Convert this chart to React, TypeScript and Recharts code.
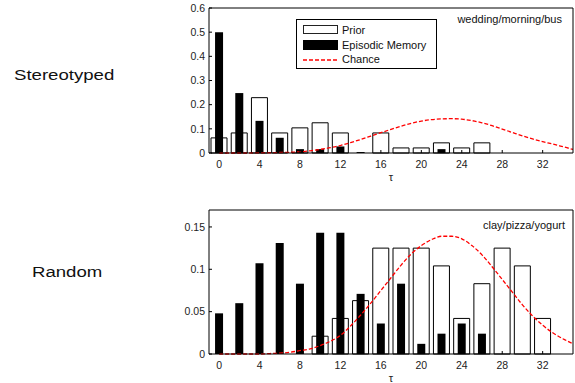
import React from 'react';
import { ComposedChart, Bar, Line, XAxis, YAxis } from 'recharts';

const FONT = '"Liberation Sans", Arial, Helvetica, sans-serif';

// bar positions (tau, even lags)
const tauBars = [0, 2, 4, 6, 8, 10, 12, 14, 16, 18, 20, 22, 24, 26, 28, 30, 32, 34];
const xTicks = [0, 4, 8, 12, 16, 20, 24, 28, 32];

// Stereotyped: wedding/morning/bus
const priorStereo = [0.0625, 0.083, 0.229, 0.083, 0.104, 0.125, 0.083, 0, 0.083, 0.021, 0.021, 0.042, 0.021, 0.042, 0, 0, 0, 0];
const episodicStereo = [0.5, 0.248, 0.133, 0.063, 0.016, 0.016, 0.027, 0.004, 0, 0, 0, 0.016, 0, 0, 0, 0, 0, 0];

// Random: clay/pizza/yogurt
const priorRandom = [0, 0, 0, 0, 0, 0.021, 0.042, 0.063, 0.125, 0.125, 0.125, 0.104, 0.042, 0.083, 0.125, 0.104, 0.042, 0];
const episodicRandom = [0.048, 0.06, 0.107, 0.131, 0.083, 0.143, 0.143, 0.071, 0.036, 0.083, 0.012, 0.024, 0.036, 0.024, 0, 0, 0, 0];

// chance curve, tau = 0..35
const tauLine = [0, 1, 2, 3, 4, 5, 6, 7, 8, 9, 10, 11, 12, 13, 14, 15, 16, 17, 18, 19, 20, 21, 22, 23, 24, 25, 26, 27, 28, 29, 30, 31, 32, 33, 34, 35];
const chanceStereo = [0, 0, 0, 0, 0.001, 0.001, 0.002, 0.003, 0.005, 0.009, 0.015, 0.022, 0.031, 0.043, 0.056, 0.07, 0.084, 0.098, 0.111, 0.123, 0.132, 0.138, 0.141, 0.142, 0.14, 0.134, 0.125, 0.113, 0.099, 0.085, 0.071, 0.058, 0.047, 0.037, 0.026, 0.015];
const chanceRandom = [0, 0, 0, 0, 0, 0.0005, 0.001, 0.002, 0.004, 0.006, 0.01, 0.015, 0.022, 0.033, 0.046, 0.06, 0.075, 0.09, 0.105, 0.118, 0.128, 0.135, 0.139, 0.139, 0.136, 0.128, 0.117, 0.103, 0.088, 0.073, 0.058, 0.045, 0.034, 0.025, 0.018, 0.012];

const stereoRows = tauBars.map((tau, i) => ({ tau, prior: priorStereo[i], episodic: episodicStereo[i] }));
const randomRows = tauBars.map((tau, i) => ({ tau, prior: priorRandom[i], episodic: episodicRandom[i] }));
const stereoChance = tauLine.map((tau, i) => ({ tau, p: chanceStereo[i] }));
const randomChance = tauLine.map((tau, i) => ({ tau, p: chanceRandom[i] }));

const tickStyle = { fontSize: 10.5, fill: '#222', fontFamily: FONT };

function Panel({ data, chance, yDomain, yTicks, top, height, marginTop, axisHeight, labelOffset }: any) {
  return (
    <div style={{ position: 'absolute', left: 0, top }}>
      <ComposedChart width={575} height={height} data={data} margin={{ top: marginTop, right: 1, bottom: 0, left: 179 }}>
        <XAxis xAxisId="main" dataKey="tau" type="number" domain={[-1, 35]} ticks={xTicks} interval={0}
          height={axisHeight} tickSize={-3} tickMargin={11} stroke="#000" tick={tickStyle}
          label={{ value: 'τ', position: 'insideBottom', offset: labelOffset, fontSize: 11, fill: '#222', fontFamily: FONT }} />
        <XAxis xAxisId="top" orientation="top" dataKey="tau" type="number" domain={[-1, 35]} ticks={xTicks}
          interval={0} height={1} tickSize={-3} tick={false} stroke="#000" />
        <YAxis yAxisId="left" type="number" domain={yDomain} ticks={yTicks} interval={0} width={30}
          tickSize={-3} tickMargin={7} stroke="#000" tick={tickStyle} />
        <YAxis yAxisId="right" orientation="right" type="number" domain={yDomain} ticks={yTicks} interval={0}
          width={1} tickSize={-3} tick={false} stroke="#000" />
        <Bar xAxisId="main" yAxisId="left" dataKey="prior" barSize={16} fill="#fff" stroke="#000" strokeWidth={1} isAnimationActive={false} />
        <Bar xAxisId="top" yAxisId="left" dataKey="episodic" barSize={8} fill="#000" isAnimationActive={false} />
        <Line xAxisId="top" yAxisId="left" data={chance} dataKey="p" type="monotone" stroke="#ff0000"
          strokeDasharray="4 2" strokeWidth={1.3} dot={false} activeDot={false} isAnimationActive={false} />
      </ComposedChart>
    </div>
  );
}

const label: React.CSSProperties = { position: 'absolute', fontFamily: FONT, whiteSpace: 'nowrap', color: '#111' };

export default function App() {
  return (
    <div style={{ position: 'absolute', left: 0, top: 0, width: 575, height: 383, background: '#fff', overflow: 'hidden' }}>
      <Panel data={stereoRows} chance={stereoChance} yDomain={[0, 0.6]} yTicks={[0, 0.1, 0.2, 0.3, 0.4, 0.5, 0.6]}
        top={0} height={183} marginTop={7} axisHeight={30} labelOffset={2} />
      <Panel data={randomRows} chance={randomChance} yDomain={[0, 0.17]} yTicks={[0, 0.05, 0.1, 0.15]}
        top={200} height={183} marginTop={9} axisHeight={29} labelOffset={1} />

      <div style={{ ...label, left: 14, top: 67, fontSize: 15.5, lineHeight: '15.5px', transform: 'scaleX(1.2)', transformOrigin: 'left' }}>Stereotyped</div>
      <div style={{ ...label, left: 32, top: 264, fontSize: 15.5, lineHeight: '15.5px', transform: 'scaleX(1.2)', transformOrigin: 'left' }}>Random</div>

      <div style={{ ...label, left: 360, width: 202, textAlign: 'right', top: 13.6, fontSize: 11, lineHeight: '11px' }}>wedding/morning/bus</div>
      <div style={{ ...label, left: 360, width: 205, textAlign: 'right', top: 220, fontSize: 11, lineHeight: '11px' }}>clay/pizza/yogurt</div>

      <div style={{ position: 'absolute', left: 296, top: 19, width: 141, height: 50, boxSizing: 'border-box', border: '1px solid #000', background: '#fff' }}>
        <div style={{ position: 'absolute', left: 6, top: 4.5, width: 35, height: 9, boxSizing: 'border-box', border: '1px solid #222', background: '#fff' }} />
        <div style={{ position: 'absolute', left: 6, top: 19.5, width: 35, height: 10, background: '#000' }} />
        <svg style={{ position: 'absolute', left: 6, top: 38 }} width={35} height={4}>
          <line x1={0} y1={2} x2={35} y2={2} stroke="#ff0000" strokeWidth={1.3} strokeDasharray="4 2" />
        </svg>
        <div style={{ ...label, left: 45, top: 4.5, fontSize: 11, lineHeight: '11px' }}>Prior</div>
        <div style={{ ...label, left: 45, top: 19.5, fontSize: 11, lineHeight: '11px' }}>Episodic Memory</div>
        <div style={{ ...label, left: 45, top: 34, fontSize: 11, lineHeight: '11px' }}>Chance</div>
      </div>
    </div>
  );
}
